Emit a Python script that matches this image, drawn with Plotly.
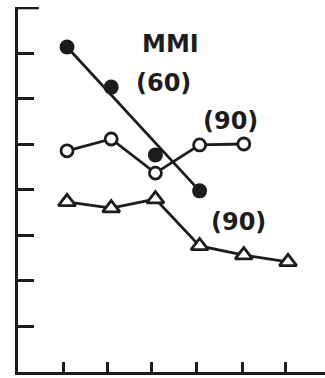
import plotly.graph_objects as go

# Data
x_filled = [1, 2, 3, 4]
y_filled = [7.14, 6.26, 4.77, 3.98]
fit_x = [1, 4]
fit_y = [7.14, 3.98]

x_open = [1, 2, 3, 4, 5]
y_open = [4.86, 5.12, 4.37, 4.99, 5.01]

x_tri = [1, 2, 3, 4, 5, 6]
y_tri = [3.74, 3.60, 3.80, 2.77, 2.57, 2.42]

x_ticks = [0.91, 1.92, 2.92, 3.94, 4.96, 5.95]
y_ticks = [0, 1, 2, 3, 4, 5, 6, 7, 8]

labels = ["MMI", "(60)", "(90)", "(90)"]
label_x = [3.35, 3.19, 4.69, 4.89]
label_y = [7.21, 6.35, 5.52, 3.30]

INK = "#1c1c1c"

fig = go.Figure()
fig.add_trace(go.Scatter(x=fit_x, y=fit_y, mode="lines",
                         line=dict(color=INK, width=2.8), hoverinfo="skip"))
fig.add_trace(go.Scatter(x=x_filled, y=y_filled, mode="markers",
                         marker=dict(symbol="circle", size=15, color=INK)))
fig.add_trace(go.Scatter(x=x_open, y=y_open, mode="lines+markers",
                         line=dict(color=INK, width=2.8),
                         marker=dict(symbol="circle", size=12, color="white",
                                     line=dict(color=INK, width=2.8))))
fig.add_trace(go.Scatter(x=x_tri, y=y_tri, mode="lines+markers",
                         line=dict(color=INK, width=2.8),
                         marker=dict(symbol="triangle-up", size=15, color="white",
                                     line=dict(color=INK, width=2.8))))

for t, ax, ay in zip(labels, label_x, label_y):
    fig.add_annotation(x=ax, y=ay, text=t, showarrow=False,
                       font=dict(family="DejaVu Sans", size=24, color=INK,
                                 weight="bold"))

# top end-cap tick of the y axis (Plotly culls the inside tick at the edge)
fig.add_shape(type="line", xref="paper", yref="y", x0=0, x1=0.068,
              y0=y_ticks[-1], y1=y_ticks[-1], line=dict(color=INK, width=2.8))

fig.update_layout(
    width=325, height=378,
    margin=dict(l=18, r=0, t=7, b=6, pad=0),
    paper_bgcolor="white", plot_bgcolor="white",
    showlegend=False,
    xaxis=dict(range=[-0.109, 6.837], showgrid=False, zeroline=False,
               showline=True, linecolor=INK, linewidth=3,
               tickmode="array", tickvals=x_ticks, ticks="inside",
               ticklen=10, tickwidth=2.5, tickcolor=INK, showticklabels=False),
    yaxis=dict(range=[0, 8.02], showgrid=False, zeroline=False,
               showline=True, linecolor=INK, linewidth=3,
               tickmode="array", tickvals=y_ticks, ticks="inside",
               ticklen=16, tickwidth=2.5, tickcolor=INK, showticklabels=False),
)

fig.write_html("out.html", config={"displayModeBar": False},
               post_script="document.body.style.margin='0';document.body.style.overflow='hidden';")
